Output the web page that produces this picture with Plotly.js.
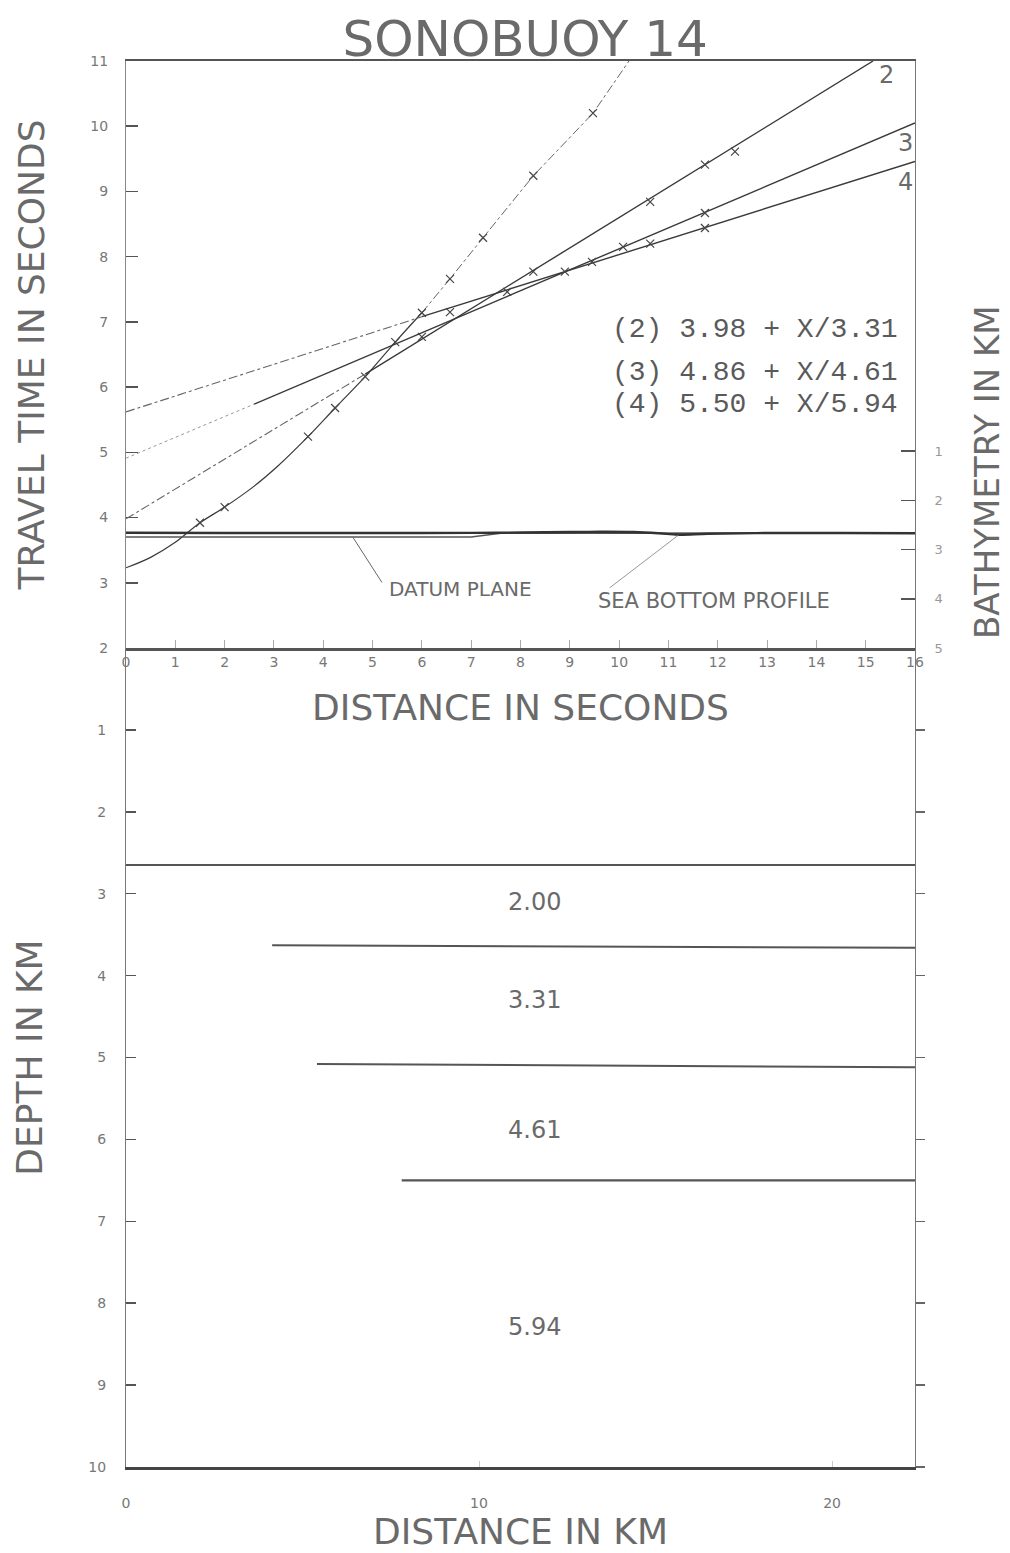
<!DOCTYPE html>
<html>
<head>
<meta charset="utf-8">
<script src="https://cdn.plot.ly/plotly-3.0.1.min.js"></script>
<style>html,body{margin:0;padding:0;background:#fff;}#chart{width:1010px;height:1553px;}</style>
</head>
<body>
<div id="chart"></div>
<script>
// ---- Travel-time data (x: distance in seconds, t: travel time in seconds) ----
const curveX = [0, 0.5, 1.0, 1.5, 2.0, 2.58, 3.08, 3.69, 4.24, 4.85, 5.46, 6.0];
const curveT = [3.23, 3.39, 3.62, 3.92, 4.16, 4.47, 4.79, 5.24, 5.68, 6.16, 6.69, 7.14];
const steepX = [6.0, 6.57, 7.24, 8.26, 9.47, 10.2];
const steepT = [7.14, 7.66, 8.29, 9.24, 10.2, 11.0];
const picks1X = [1.5, 2.0, 3.69, 4.24, 4.85, 5.46, 6.0, 6.57, 7.24, 8.26, 9.47];
const picks1T = [3.92, 4.16, 5.24, 5.68, 6.16, 6.69, 7.14, 7.66, 8.29, 9.24, 10.2];

const line2ExtX = [0, 4.85];   const line2ExtT = [3.98, 6.2];
const line2FitX = [4.85, 15.15]; const line2FitT = [6.2, 11.0];
const line3ExtX = [0, 2.6];    const line3ExtT = [4.91, 5.74];
const line3FitX = [2.6, 16];   const line3FitT = [5.74, 10.05];
const line4ExtX = [0, 6.0];    const line4ExtT = [5.62, 7.08];
const line4FitX = [6.0, 16];   const line4FitT = [7.08, 9.46];

const picks2X = [6.0, 8.26, 10.63, 11.74, 12.35];
const picks2T = [6.77, 7.77, 8.84, 9.41, 9.61];
const picks3X = [8.9, 9.45, 10.08, 11.74];
const picks3T = [7.77, 7.92, 8.15, 8.67];
const picks4X = [6.57, 7.73, 10.63, 11.74];
const picks4T = [7.15, 7.46, 8.2, 8.44];

const lineLabels = ['2', '3', '4'];
const lineLabelX = [15.42, 15.8, 15.8];
const lineLabelT = [10.79, 9.74, 9.14];

const equations = ['(2) 3.98 + X/3.31', '(3) 4.86 + X/4.61', '(4) 5.50 + X/5.94'];
const equationT = [6.88, 6.23, 5.73];
const equationX = 9.82;

// ---- Bathymetry (km) along distance in seconds ----
const seaX = [0, 2, 4, 6, 7.5, 9.0, 9.6, 10.3, 10.8, 11.2, 11.8, 13, 14.5, 16];
const seaZ = [2.66, 2.665, 2.665, 2.665, 2.66, 2.645, 2.64, 2.645, 2.67, 2.70, 2.68, 2.665, 2.665, 2.67];
const datumX = [0, 7.0, 7.6, 16];
const datumZ = [2.745, 2.745, 2.67, 2.665];

// leaders: [tipX, tipZ, tailX, tailZ]
const datumLeader = [4.6, 2.75, 5.21, 3.70];
const seaLeader = [11.2, 2.71, 9.78, 3.80];

// ---- Depth section (x: distance in km, z: depth in km) ----
const boundary1X = [0, 22.35]; const boundary1Z = [2.65, 2.65];
const boundary2X = [4.14, 22.35]; const boundary2Z = [3.63, 3.66];
const boundary3X = [5.41, 22.35]; const boundary3Z = [5.08, 5.12];
const boundary4X = [7.81, 22.35]; const boundary4Z = [6.50, 6.50];
const velLabels = ['2.00', '3.31', '4.61', '5.94'];
const velDepth = [3.10, 4.30, 5.89, 8.29];
const velKm = 11.56;

const secTicks = [0,1,2,3,4,5,6,7,8,9,10,11,12,13,14,15,16];
const timeTicks = [2,3,4,5,6,7,8,9,10,11];
const bathTicks = [1,2,3,4,5];
const depthTicks = [1,2,3,4,5,6,7,8,9,10];
const kmTicks = [0,10,20];

const DARK = '#3a3a3a', MID = '#666', LIGHT = '#999';
const TXT = '#6a6a6a';
const mk = {symbol: 'x-thin', size: 8, line: {width: 1.2, color: '#444'}, color: '#444'};

function ln(x, y, color, width, dash, xa, ya, shape) {
  return {x: x, y: y, type: 'scatter', mode: 'lines', xaxis: xa || 'x', yaxis: ya || 'y',
          line: {color: color, width: width, dash: dash || 'solid', shape: shape || 'linear'}, hoverinfo: 'skip', showlegend: false};
}
function pk(x, y) {
  return {x: x, y: y, type: 'scatter', mode: 'markers', xaxis: 'x', yaxis: 'y', marker: mk, hoverinfo: 'skip', showlegend: false};
}

const traces = [
  ln(curveX, curveT, DARK, 1.2, 'solid', 'x', 'y', 'spline'),
  ln(steepX, steepT, MID, 1, 'dashdot'),
  pk(picks1X, picks1T),
  ln(line2ExtX, line2ExtT, MID, 1.1, 'dashdot'),
  ln(line2FitX, line2FitT, DARK, 1.4),
  ln(line3ExtX, line3ExtT, LIGHT, 1, 'dot'),
  ln(line3FitX, line3FitT, DARK, 1.4),
  ln(line4ExtX, line4ExtT, MID, 1.1, 'dashdot'),
  ln(line4FitX, line4FitT, DARK, 1.4),
  pk(picks2X, picks2T), pk(picks3X, picks3T), pk(picks4X, picks4T),
  ln(datumX, datumZ, '#555', 1.6, 'solid', 'x', 'y2'),
  ln(seaX, seaZ, '#333', 2.4, 'solid', 'x', 'y2', 'spline'),
  ln(boundary1X, boundary1Z, '#555', 2, 'solid', 'x2', 'y3'),
  ln(boundary2X, boundary2Z, '#555', 2, 'solid', 'x2', 'y3'),
  ln(boundary3X, boundary3Z, '#555', 2, 'solid', 'x2', 'y3'),
  ln(boundary4X, boundary4Z, '#555', 2.4, 'solid', 'x2', 'y3'),
  // invisible trace so right-hand depth axis is drawn
  {x: [0], y: [0], type: 'scatter', mode: 'markers', xaxis: 'x2', yaxis: 'y4', marker: {opacity: 0}, hoverinfo: 'skip', showlegend: false}
];

const annotations = [];
lineLabels.forEach((t, i) => annotations.push({xref: 'x', yref: 'y', x: lineLabelX[i], y: lineLabelT[i], text: t, showarrow: false,
  font: {family: 'DejaVu Sans', size: 24, color: TXT}}));
equations.forEach((t, i) => annotations.push({xref: 'x', yref: 'y', x: equationX, y: equationT[i], text: t, showarrow: false,
  xanchor: 'left', font: {family: 'Liberation Mono', size: 28, color: '#5a5a5a'}}));
annotations.push({xref: 'x', yref: 'y2', x: datumLeader[0], y: datumLeader[1], axref: 'x', ayref: 'y2', ax: datumLeader[2], ay: datumLeader[3],
  text: '', showarrow: true, arrowhead: 0, arrowwidth: 1, arrowcolor: MID});
annotations.push({xref: 'x', yref: 'y2', x: seaLeader[0], y: seaLeader[1], axref: 'x', ayref: 'y2', ax: seaLeader[2], ay: seaLeader[3],
  text: '', showarrow: true, arrowhead: 0, arrowwidth: 1, arrowcolor: LIGHT});
annotations.push({xref: 'x', yref: 'y2', x: datumLeader[2] + 0.08, y: datumLeader[3] + 0.1, xanchor: 'left', yanchor: 'middle', text: 'DATUM PLANE',
  showarrow: false, font: {family: 'DejaVu Sans', size: 20, color: TXT}});
annotations.push({xref: 'x', yref: 'y2', x: seaLeader[2] - 0.25, y: seaLeader[3] + 0.25, xanchor: 'left', yanchor: 'middle', text: 'SEA BOTTOM PROFILE',
  showarrow: false, font: {family: 'DejaVu Sans', size: 21, color: TXT}});
annotations.push({xref: 'paper', yref: 'paper', x: 1.0905, y: 0.708, xanchor: 'center', yanchor: 'middle', textangle: -90,
  text: 'BATHYMETRY IN KM', showarrow: false, font: {family: 'DejaVu Sans', size: 34, color: TXT}});
velLabels.forEach((t, i) => annotations.push({xref: 'x2', yref: 'y3', x: velKm, y: velDepth[i], text: t, showarrow: false,
  font: {family: 'DejaVu Sans', size: 24, color: TXT}}));

const tickFont = {family: 'DejaVu Sans', size: 14, color: '#777'};
const titleFont = {family: 'DejaVu Sans', size: 36, color: TXT};
const sideTitleFont = {family: 'DejaVu Sans', size: 36, color: TXT};
const split = 0.5825;

const layout = {
  width: 1010, height: 1553,
  margin: {l: 126, r: 95, t: 61, b: 86},
  paper_bgcolor: '#fff', plot_bgcolor: '#fff',
  showlegend: false,
  title: {text: 'SONOBUOY 14', x: 0.52, xref: 'container', y: 1 - 38 / 1553, yref: 'container', xanchor: 'center', yanchor: 'middle',
          font: {family: 'DejaVu Sans', size: 50, color: TXT}},
  xaxis: {domain: [0, 1], anchor: 'y', range: [0, 16], tickvals: secTicks, ticktext: secTicks.map(String),
          ticks: 'inside', ticklen: 8, tickcolor: '#aaa', tickwidth: 1, showgrid: false, zeroline: false,
          showline: true, linecolor: '#555', linewidth: 2.5, mirror: true, tickfont: tickFont, ticklabelstandoff: 0,
          title: {text: 'DISTANCE IN SECONDS', font: titleFont, standoff: 26}},
  yaxis: {domain: [split, 1], anchor: 'x', range: [2, 11], tickvals: timeTicks, ticks: 'inside', ticklen: 12, tickwidth: 1.5,
          tickcolor: '#555', showgrid: false, zeroline: false, showline: true, linecolor: '#888', linewidth: 1,
          tickfont: tickFont, ticklabelstandoff: 14,
          title: {text: 'TRAVEL TIME IN SECONDS', font: sideTitleFont, standoff: 34}},
  yaxis2: {overlaying: 'y', side: 'right', anchor: 'x', range: [5, -6.92], tickvals: bathTicks, ticks: 'inside', ticklen: 14,
           tickwidth: 1.5, tickcolor: '#555', showgrid: false, zeroline: false, showline: true, linecolor: '#777', linewidth: 1,
           tickfont: {family: 'DejaVu Sans', size: 13, color: '#999'}, ticklabelstandoff: 16},
  xaxis2: {domain: [0, 1], anchor: 'y3', range: [0, 22.35], tickvals: kmTicks, ticks: 'inside', ticklen: 6, tickcolor: '#ccc',
           showgrid: false, zeroline: false, showline: true, linecolor: '#444', linewidth: 2.5, tickfont: tickFont,
           ticklabelstandoff: 22, title: {text: 'DISTANCE IN KM', font: titleFont, standoff: 6}},
  yaxis3: {domain: [0, split], anchor: 'x2', range: [10, 0], tickvals: depthTicks, ticks: 'inside', ticklen: 10, tickwidth: 1.5,
           tickcolor: '#555', showgrid: false, zeroline: false, showline: true, linecolor: '#777', linewidth: 1,
           tickfont: tickFont, ticklabelstandoff: 16,
           title: {text: 'DEPTH IN KM', font: sideTitleFont, standoff: 34}},
  yaxis4: {overlaying: 'y3', side: 'right', anchor: 'x2', range: [10, 0], tickvals: depthTicks, ticks: 'outside', ticklen: 9,
           tickwidth: 1.5, tickcolor: '#666', showticklabels: false, showgrid: false, zeroline: false, showline: true,
           linecolor: '#777', linewidth: 1},
  annotations: annotations
};

Plotly.newPlot('chart', traces, layout, {displayModeBar: false, staticPlot: true});
</script>
</body>
</html>
